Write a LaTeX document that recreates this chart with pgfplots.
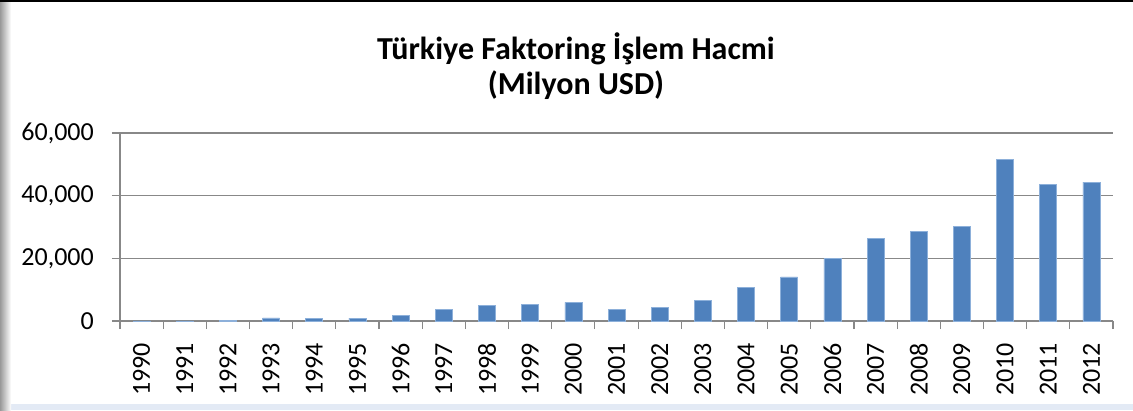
\documentclass[border=0pt]{standalone}
\usepackage{fontspec}
\setmainfont{Carlito}
\usepackage{pgfplots}
\pgfplotsset{compat=1.18}
\definecolor{barblue}{HTML}{4F81BD}
\definecolor{baredge}{HTML}{8DB0DA}
\definecolor{gridgray}{HTML}{888888}
\definecolor{bandblue}{HTML}{E3EAF5}
\begin{document}
\begin{tikzpicture}[x=1pt,y=1pt]
\useasboundingbox (0,0) rectangle (1133,410);
\fill[bandblue] (0,0) rectangle (1133,6);
\fill[left color=gray!80, right color=white] (0,0) rectangle (11,408);
\draw[black, line width=1.5pt] (0,409.2) -- (1133,409.2);
\node[align=center, font=\fontsize{32}{35}\selectfont\bfseries] at (576,344) {Türkiye Faktoring İşlem Hacmi\\(Milyon USD)};
\begin{axis}[
  at={(120pt,89pt)}, anchor=south west,
  scale only axis, width=993pt, height=188pt,
  xmin=-0.5, xmax=22.5, ymin=0, ymax=60000,
  ytick={0,20000,40000,60000},
  xtick={-0.5,0.5,...,22.5},
  x tick label as interval,
  xticklabels={1990,1991,1992,1993,1994,1995,1996,1997,1998,1999,2000,2001,2002,2003,2004,2005,2006,2007,2008,2009,2010,2011,2012},
  ymajorgrids, major grid style={gridgray, line width=1.1pt},
  axis x line*=bottom, axis y line*=left,
  axis line style={gridgray, line width=1.1pt},
  tick align=outside, major tick length=8pt,
  tick style={gridgray, line width=1.1pt},
  ticklabel style={font=\fontsize{26}{30}\selectfont, text=black},
  xticklabel style={rotate=90, anchor=east, inner sep=0pt},
  xticklabel shift=14pt,
  yticklabel style={inner sep=0pt, /pgf/number format/.cd, fixed, 1000 sep={,}, assume math mode=true},
  yticklabel shift=18pt,
  scaled y ticks=false,
  clip=false,
]
\addplot[ybar, bar width=17pt, fill=barblue, draw=baredge, line width=0.6pt] coordinates {
(0,30) (1,60) (2,300) (3,1000) (4,900) (5,900) (6,1700) (7,3600) (8,4900) (9,5400) (10,5950) (11,3600) (12,4450) (13,6700) (14,10800) (15,14050) (16,19900) (17,26400) (18,28700) (19,30300) (20,51600) (21,43700) (22,44300)
};
\end{axis}
\end{tikzpicture}
\end{document}
